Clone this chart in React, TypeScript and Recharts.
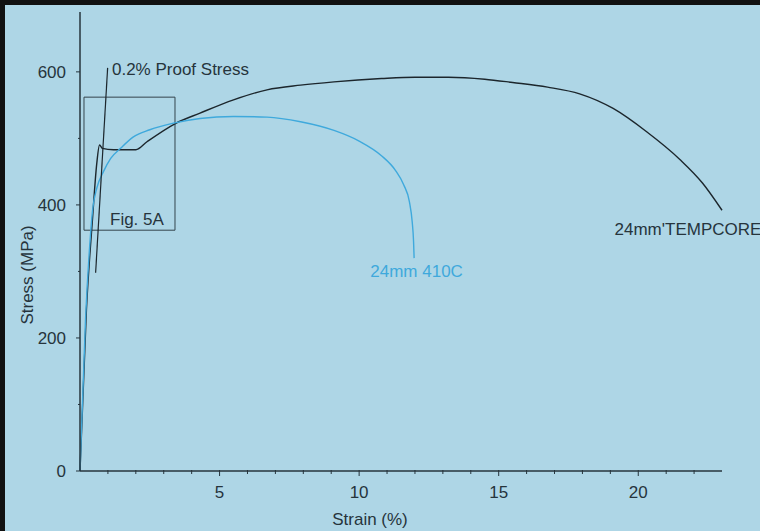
import React from 'react';
import { LineChart, Line, XAxis, YAxis, ReferenceArea, ReferenceDot } from 'recharts';

// stress-strain readings (strain %, stress MPa)
const tempcoreStrain = [0, 0.23, 0.45, 0.6, 0.7, 0.8, 1.2, 2.0, 2.4, 3.4, 4.3, 5.5, 6.7, 7.9, 9.1, 10.8, 12.0, 13.2, 14.5, 15.5, 16.75, 17.9, 19.1, 20.3, 21.5, 22.3, 23.0];
const tempcoreStress = [0, 242, 380, 462, 490, 485, 483, 483, 495, 522, 538, 558, 573, 580, 585, 590, 592, 592, 589, 584, 577, 567, 545, 510, 468, 433, 392];

const alloyStrain = [0, 0.2, 0.35, 0.45, 0.6, 0.84, 1.1, 1.45, 1.9, 2.5, 3.35, 4.3, 5.5, 6.7, 7.9, 9.1, 10.0, 10.8, 11.3, 11.6, 11.8, 11.9, 11.95, 11.97];
const alloyStress = [0, 230, 340, 392, 425, 450, 470, 485, 502, 513, 523, 530, 533, 532, 525, 512, 496, 474, 452, 430, 405, 375, 345, 320];

const proofStrain = [0.56, 0.99];
const proofStress = [298, 606];

const strainTicks = [1, 2, 3, 4, 5, 6, 7, 8, 9, 10, 11, 12, 13, 14, 15, 16, 17, 18, 19, 20, 21, 22];
const strainLabels = [5, 10, 15, 20];
const stressTicks = [0, 100, 200, 300, 400, 500, 600];
const stressLabels = [0, 200, 400, 600];

const INK = '#26343c';
const BLUE = '#3fa9dc';
const BG = '#aed6e6';
const FONT = '"Liberation Sans", Arial, sans-serif';
const SIZE = 17;

const toPoints = (xs: number[], ys: number[]) => xs.map((x, i) => ({ x, y: ys[i] }));

const StrainTick = (props: any) => {
  const { x, y, payload } = props;
  const major = strainLabels.includes(payload.value);
  return (
    <g>
      <line x1={x} x2={x} y1={y - 1} y2={y + (major ? 5 : 3)} stroke={INK} strokeWidth={1} />
      {major && (
        <text x={x} y={y + 27} textAnchor="middle" fill={INK} fontSize={SIZE}>
          {payload.value}
        </text>
      )}
    </g>
  );
};

const StressTick = (props: any) => {
  const { x, y, payload } = props;
  const major = stressLabels.includes(payload.value);
  return (
    <g>
      <line x1={x - (major ? 4 : 2)} x2={x} y1={y} y2={y} stroke={INK} strokeWidth={1} />
      {major && (
        <text x={x - 14} y={y} dy="0.35em" textAnchor="end" fill={INK} fontSize={SIZE}>
          {payload.value}
        </text>
      )}
    </g>
  );
};

const note = (value: string, fill: string) => ({ value, position: 'right' as const, offset: 0, fill, fontSize: SIZE });

export default function App() {
  return (
    <div style={{ position: 'absolute', left: 0, top: 0, width: 760, height: 531, background: BG, fontFamily: FONT, overflow: 'hidden' }}>
      <LineChart width={760} height={531} margin={{ top: 12, right: 38, bottom: 0, left: 0 }}>
        <XAxis
          type="number"
          dataKey="x"
          domain={[0, 23]}
          ticks={strainTicks}
          interval={0}
          height={60}
          tickSize={0}
          tickMargin={0}
          tickLine={false}
          axisLine={{ stroke: INK, strokeWidth: 1.5 }}
          tick={<StrainTick />}
        />
        <YAxis
          type="number"
          dataKey="y"
          domain={[0, 690]}
          ticks={stressTicks}
          interval={0}
          width={80}
          tickSize={0}
          tickMargin={0}
          tickLine={false}
          axisLine={{ stroke: INK, strokeWidth: 1.5 }}
          tick={<StressTick />}
        />
        <ReferenceArea x1={0.143} x2={3.403} y1={362} y2={562} fill="none" stroke="#34444c" strokeWidth={1} />
        <Line data={toPoints(tempcoreStrain, tempcoreStress)} dataKey="y" type="monotone" stroke="#1c262c" strokeWidth={1.4} dot={false} isAnimationActive={false} />
        <Line data={toPoints(alloyStrain, alloyStress)} dataKey="y" type="monotone" stroke={BLUE} strokeWidth={1.4} dot={false} isAnimationActive={false} />
        <Line data={toPoints(proofStrain, proofStress)} dataKey="y" type="linear" stroke="#1c262c" strokeWidth={1.2} dot={false} isAnimationActive={false} />
        <ReferenceDot x={1.146} y={604} r={0} fill="none" stroke="none" label={note('0.2% Proof Stress', INK)} />
        <ReferenceDot x={1.075} y={379} r={0} fill="none" stroke="none" label={note('Fig. 5A', INK)} />
        <ReferenceDot x={10.4} y={301} r={0} fill="none" stroke="none" label={note('24mm 410C', BLUE)} />
        <ReferenceDot x={19.15} y={364} r={0} fill="none" stroke="none" label={note("24mm'TEMPCORE", INK)} />
      </LineChart>
      <svg width={760} height={531} style={{ position: 'absolute', left: 0, top: 0, pointerEvents: 'none' }}>
        <text transform="translate(27,275) rotate(-90)" textAnchor="middle" dominantBaseline="central" fill={INK} fontSize={SIZE}>
          Stress (MPa)
        </text>
        <text x={370} y={525} textAnchor="middle" fill={INK} fontSize={SIZE}>
          Strain (%)
        </text>
      </svg>
      <div style={{ position: 'absolute', left: 0, top: 0, width: 5, height: 531, background: '#111' }} />
      <div style={{ position: 'absolute', left: 0, top: 0, width: 760, height: 5, background: '#111' }} />
    </div>
  );
}
